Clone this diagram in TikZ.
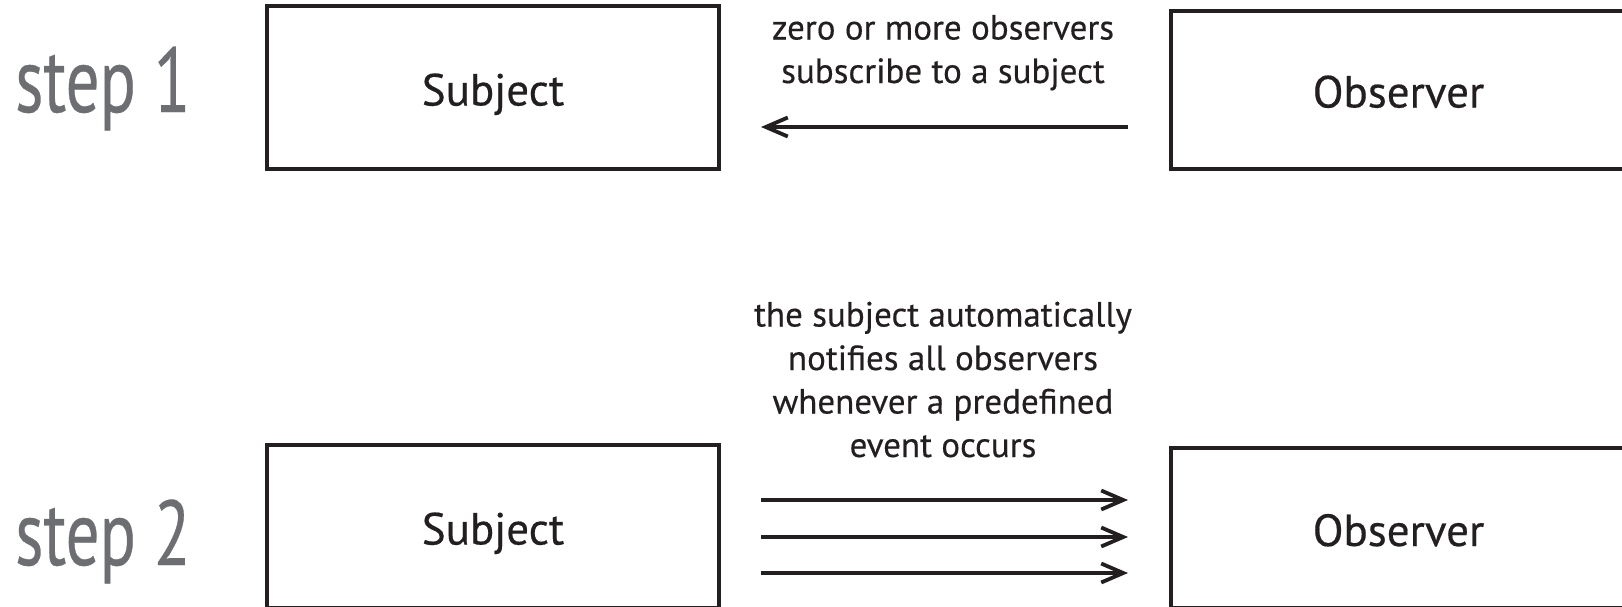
\documentclass[tikz,border=0pt]{standalone}
\usepackage{fontspec}
\usepackage{graphicx}
\setmainfont{PT Sans}[FakeBold=0.4]
\usetikzlibrary{arrows.meta}
\definecolor{ink}{HTML}{231F20}
\definecolor{steptext}{HTML}{6D6E71}
\begin{document}
\begin{tikzpicture}[x=1pt,y=-1pt,
  box/.style={draw=ink, line width=4pt, minimum width=452pt, minimum height=163pt,
    inner sep=0pt, text height=36pt, text depth=0pt,
    font=\fontsize{45}{54}\selectfont, text=ink},
  arr/.style={draw=ink, line width=3.5pt,
    -{Straight Barb[length=22pt,width=19pt,line width=3.8pt]}},
  note/.style={font=\fontsize{35}{43.5}\selectfont, text=ink, align=center,
    inner sep=0pt, anchor=base},
  steplabel/.style={font=\fontsize{92}{96}\selectfont, text=steptext, inner sep=0pt,
    anchor=base west}]
\useasboundingbox (0,0) rectangle (1622,606);
\clip (0,0) rectangle (1622,606);

% step 1: observers subscribe to the subject
\node[steplabel] (step1) at (15,112) {\scalebox{0.73}[1]{step 1}};
\node[box] (sub1) at (493,87.5) {Subject};
\node[box, minimum width=455pt, minimum height=158pt] (obs1) at (1398.5,89.5) {Observer};
\node[note] (n1) at (943,83) {zero or more observers\\subscribe to a subject};
\draw[arr, shorten <=41pt, shorten >=40pt] (obs1.west |- 0,127) -- (sub1.east |- 0,127);

% step 2: the subject notifies its observers
\node[steplabel] (step2) at (15,565) {\scalebox{0.73}[1]{step 2}};
\node[box] (sub2) at (493,526.5) {Subject};
\node[box, minimum width=455pt, minimum height=160pt] (obs2) at (1398.5,528) {Observer};
\node[note] (n2) at (943,457)
  {the subject automatically\\notifies all observers\\whenever a predefined\\event occurs};
\foreach \y in {500,537,573}
  \draw[arr, shorten <=40pt, shorten >=41pt] (sub2.east |- 0,\y) -- (obs2.west |- 0,\y);
\end{tikzpicture}
\end{document}
